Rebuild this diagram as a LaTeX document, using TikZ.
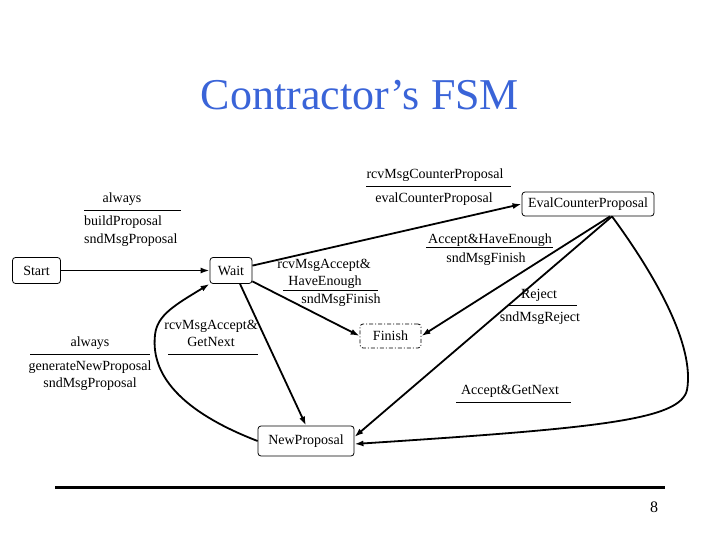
\documentclass[tikz,border=0pt]{standalone}
\usepackage{fontspec}
\setmainfont{Liberation Serif}
\usetikzlibrary{arrows.meta, positioning, calc}
\definecolor{titleblue}{RGB}{58,100,216}
\begin{document}
\begin{tikzpicture}[
        x=1pt, y=-1pt,
        state/.style={rectangle, draw=black, line width=0.8pt, rounded corners=3pt, inner sep=0pt, font=\fontsize{14}{16}\selectfont},
        trans/.style={-{Latex[length=9pt, width=6pt]}, line width=1.8pt, draw=black},
        lbl/.style={inner sep=0pt, font=\fontsize{14}{16}\selectfont},
        bar/.style={line width=0.8pt, draw=black}
    ]
        \useasboundingbox (0,0) rectangle (720,540);
        \node[font=\fontsize{44}{50}\selectfont, text=titleblue] (title) at (360,95) {Contractor’s FSM};
        \node[state, minimum width=48pt, minimum height=26pt] (start) at (36.5,270.5) {Start};
        \node[state, minimum width=42pt, minimum height=26pt] (wait) at (231,270.5) {Wait};
        \node[state, minimum width=132pt, minimum height=24pt] (evalcp) at (588,204) {EvalCounterProposal};
        \node[state, dash pattern=on 4pt off 2pt on 1pt off 2pt, minimum width=61pt, minimum height=24pt] (finish) at (390.5,336) {Finish};
        \node[state, minimum width=96pt, minimum height=30pt] (newprop) at (306,441) {NewProposal};
        \draw[trans] (start) -- (wait);
        \draw[trans] (wait) -- (evalcp.west);
        \draw[trans] (wait) -- (finish.west);
        \draw[trans] ([xshift=9pt]wait.south) -- (newprop.north);
        \draw[trans] (newprop.west) .. controls (190,415) and (150,380) .. (155,335) .. controls (157,315) and (175,305) .. (wait.south west);
        \draw[trans] ([xshift=22pt]evalcp.south) -- (finish.east);
        \draw[trans] ([xshift=24pt]evalcp.south) -- ([yshift=4pt]newprop.east);
        \draw[trans] ([xshift=24pt]evalcp.south) .. controls (655,275) and (695,345) .. (687,390) .. controls (680,420) and (600,428) .. ([yshift=-3pt]newprop.east);
        \node[lbl] (alwaysa) at (122,199) {always};
        \draw[bar] (84,210) -- (181,210);
        \node[lbl, anchor=west] (buildprop) at (84,222) {buildProposal};
        \node[lbl, anchor=west] (sndpropa) at (84,240) {sndMsgProposal};
        \node[lbl] (rcvcp) at (435,175) {rcvMsgCounterProposal};
        \draw[bar] (366,186) -- (511,186);
        \node[lbl] (evalcplbl) at (434,199) {evalCounterProposal};
        \node[lbl] (acchave) at (490,240) {Accept\&HaveEnough};
        \draw[bar] (426,247) -- (553,247);
        \node[lbl] (sndfina) at (486,259) {sndMsgFinish};
        \node[lbl] (rcvacca) at (324,265) {rcvMsgAccept\&};
        \node[lbl] (haveenough) at (325,282) {HaveEnough};
        \draw[bar] (283,290) -- (378,290);
        \node[lbl] (sndfinb) at (341,300) {sndMsgFinish};
        \node[lbl] (reject) at (539,295) {Reject};
        \draw[bar] (507,305) -- (577,305);
        \node[lbl] (sndrej) at (540,318) {sndMsgReject};
        \node[lbl] (rcvaccb) at (211,326) {rcvMsgAccept\&};
        \node[lbl] (getnext) at (211,342) {GetNext};
        \draw[bar] (168,354) -- (258,354);
        \node[lbl] (alwaysb) at (90,343) {always};
        \draw[bar] (30,354) -- (150,354);
        \node[lbl] (gennew) at (90,367) {generateNewProposal};
        \node[lbl] (sndpropb) at (90,384) {sndMsgProposal};
        \node[lbl] (accnext) at (510,391) {Accept\&GetNext};
        \draw[bar] (456,402) -- (571,402);
        \draw[line width=3pt] (55,487) -- (665,487);
        \node[font=\fontsize{16}{18}\selectfont] (pagenum) at (654,507) {8};
    \end{tikzpicture}
\end{document}
